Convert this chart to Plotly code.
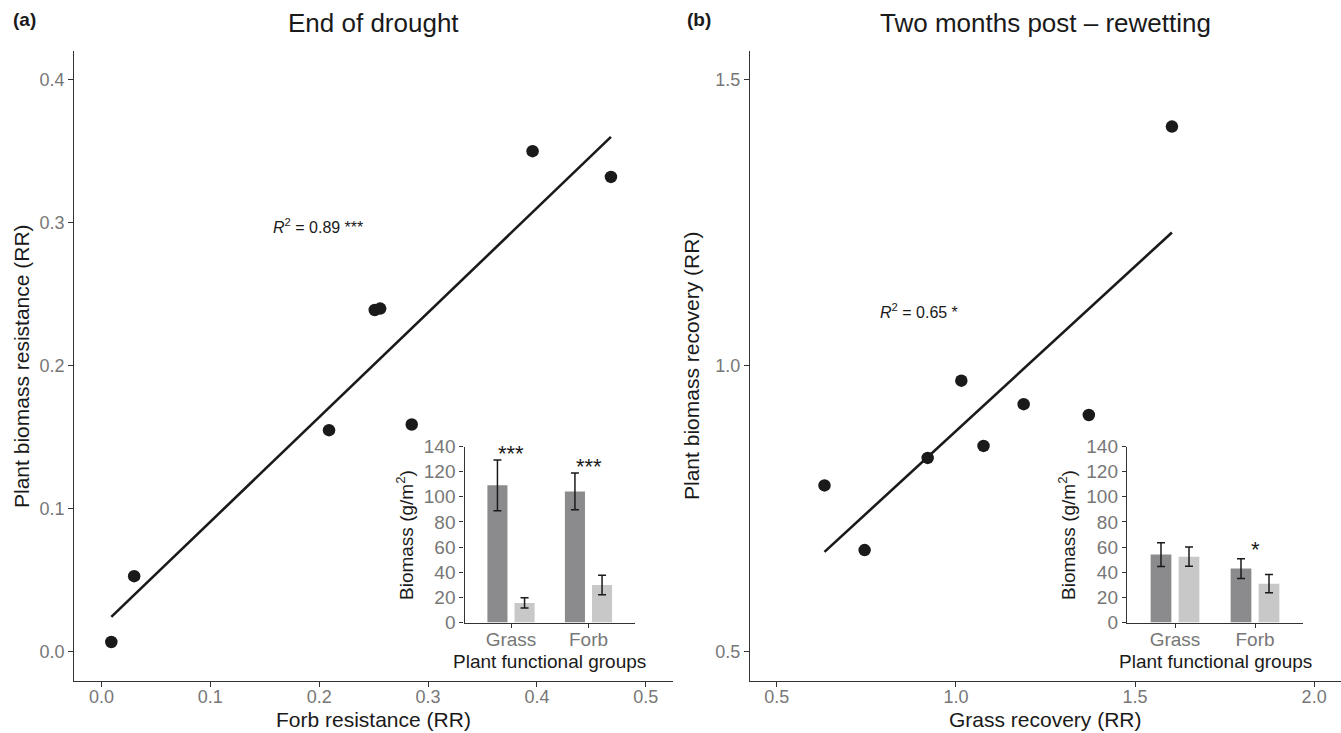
import numpy as np
import plotly.graph_objects as go

# ---------------- data ----------------
# Panel (a): End of drought
forb_resistance = [0.009, 0.030, 0.209, 0.251, 0.256, 0.285, 0.396, 0.468]
plant_resistance = [0.007, 0.053, 0.155, 0.239, 0.240, 0.159, 0.350, 0.332]
r2_a_text = "<i>R</i><sup>2</sup> = 0.89 ***"

# Panel (b): Two months post-rewetting
grass_recovery = [0.633, 0.745, 0.921, 1.015, 1.077, 1.189, 1.371, 1.603]
plant_recovery = [0.791, 0.678, 0.839, 0.974, 0.860, 0.933, 0.914, 1.418]
r2_b_text = "<i>R</i><sup>2</sup> = 0.65 *"

# Insets: biomass by plant functional group
groups = ["Grass", "Forb"]
inset_a_dark = [109.1, 104.3]
inset_a_dark_se = [20.2, 14.7]
inset_a_light = [15.6, 29.8]
inset_a_light_se = [4.0, 7.8]
inset_a_sig = ["***", "***"]

inset_b_dark = [54.0, 42.9]
inset_b_dark_se = [9.5, 7.9]
inset_b_light = [52.4, 30.9]
inset_b_light_se = [7.7, 7.2]
inset_b_sig = ["", "*"]

main_a_ticks = [0.0, 0.1, 0.2, 0.3, 0.4, 0.5]
main_a_yticks = [0.0, 0.1, 0.2, 0.3, 0.4]
main_b_ticks = [0.5, 1.0, 1.5, 2.0]
main_b_yticks = [0.5, 1.0, 1.5]
inset_yticks = [0, 20, 40, 60, 80, 100, 120, 140]

# ---------------- styling ----------------
W, H = 1341, 733
FONT = "Liberation Sans, Arial, Helvetica, sans-serif"
INK = "#1a1a1a"
AXC = "#333333"
TICKC = "#777777"
DARK = "#8b8b8d"
LIGHT = "#c8c8c8"

def px_x(p):
    return p / W

def px_y(p):
    return (H - p) / H

fig = go.Figure()

def add_scatter(x, y, xa, ya):
    fig.add_trace(go.Scatter(x=x, y=y, mode="markers", xaxis=xa, yaxis=ya,
                             marker=dict(size=12.5, color=INK), showlegend=False,
                             cliponaxis=False))
    xs = np.array(x)
    ys = np.array(y)
    k, b = np.polyfit(xs, ys, 1)
    xl = np.array([xs.min(), xs.max()])
    fig.add_trace(go.Scatter(x=xl, y=k * xl + b, mode="lines", xaxis=xa, yaxis=ya,
                             line=dict(color=INK, width=2.6), showlegend=False))

add_scatter(forb_resistance, plant_resistance, "x", "y")
add_scatter(grass_recovery, plant_recovery, "x2", "y2")

def add_inset(dark, dark_se, light, light_se, xa, ya):
    err = dict(type="data", color=INK, thickness=1.5, width=4)
    fig.add_trace(go.Bar(x=groups, y=dark, xaxis=xa, yaxis=ya, marker=dict(color=DARK, line=dict(width=0)),
                         error_y=dict(array=dark_se, **err), showlegend=False))
    fig.add_trace(go.Bar(x=groups, y=light, xaxis=xa, yaxis=ya, marker=dict(color=LIGHT, line=dict(width=0)),
                         error_y=dict(array=light_se, **err), showlegend=False))

add_inset(inset_a_dark, inset_a_dark_se, inset_a_light, inset_a_light_se, "x3", "y3")
add_inset(inset_b_dark, inset_b_dark_se, inset_b_light, inset_b_light_se, "x4", "y4")

axis_common = dict(showline=True, linecolor=AXC, linewidth=1.4, ticks="outside", ticklen=5,
                   tickcolor=AXC, tickwidth=1.2, showgrid=False, zeroline=False, automargin=False,
                   tickfont=dict(family=FONT, size=18, color=TICKC))
inset_common = dict(axis_common)
inset_common["tickfont"] = dict(family=FONT, size=19, color=TICKC)
inset_common["ticklen"] = 4
inset_x = dict(inset_common)
inset_x["ticklabelstandoff"] = -5

xaxis_main = dict(axis_common)
xaxis_main["ticklabelstandoff"] = -5

ydom_main = [px_y(680.6), px_y(51)]
ydom_inset = [px_y(622.5), px_y(446.5)]

fig.update_layout(
    width=W, height=H, margin=dict(l=0, r=0, t=0, b=0, autoexpand=False),
    paper_bgcolor="white", plot_bgcolor="rgba(0,0,0,0)",
    barmode="group", bargap=0.30, bargroupgap=0.26,
    font=dict(family=FONT, color=INK),
    xaxis=dict(domain=[px_x(74.3), px_x(673)], range=[-0.025, 0.525], tickvals=main_a_ticks,
               ticktext=[f"{v:.1f}" for v in main_a_ticks], anchor="y", **xaxis_main),
    yaxis=dict(domain=ydom_main, range=[-0.02, 0.42], tickvals=main_a_yticks,
               ticktext=[f"{v:.1f}" for v in main_a_yticks], anchor="x", **axis_common),
    xaxis2=dict(domain=[px_x(750), 1.0], range=[0.425, 2.075], tickvals=main_b_ticks,
                ticktext=[f"{v:.1f}" for v in main_b_ticks], anchor="y2", **xaxis_main),
    yaxis2=dict(domain=ydom_main, range=[0.45, 1.55], tickvals=main_b_yticks,
                ticktext=[f"{v:.1f}" for v in main_b_yticks], anchor="x2", **axis_common),
    xaxis3=dict(domain=[px_x(464.5), px_x(635)], range=[-0.6, 1.6], type="category",
                anchor="y3", **inset_x),
    yaxis3=dict(domain=ydom_inset, range=[0, 140], tickvals=inset_yticks, anchor="x3", **inset_common),
    xaxis4=dict(domain=[px_x(1127), px_x(1303)], range=[-0.6, 1.6], type="category",
                anchor="y4", **inset_x),
    yaxis4=dict(domain=ydom_inset, range=[0, 140], tickvals=inset_yticks, anchor="x4", **inset_common),
)

ann = []
def paper_text(text, x, y, size, angle=0, xanchor="center", bold=False, color=INK):
    ann.append(dict(text=f"<b>{text}</b>" if bold else text, x=x, y=y, xref="paper", yref="paper",
                    xanchor=xanchor, yanchor="middle", showarrow=False, textangle=angle,
                    font=dict(family=FONT, size=size, color=color)))

# titles and panel letters
paper_text("End of drought", px_x(373.6), px_y(23), 26)
paper_text("Two months post \u2013 rewetting", px_x(1045), px_y(23), 26)
paper_text("(a)", px_x(11), px_y(20), 19, xanchor="left", bold=True)
paper_text("(b)", px_x(685), px_y(20), 19, xanchor="left", bold=True)

# main axis titles
paper_text("Forb resistance (RR)", px_x(373.6), px_y(719), 21)
paper_text("Grass recovery (RR)", px_x(1045), px_y(719), 21)
paper_text("Plant biomass resistance (RR)", px_x(21), px_y(366), 21, angle=-90)
paper_text("Plant biomass recovery (RR)", px_x(691), px_y(366), 21, angle=-90)

# inset axis titles
paper_text("Biomass (g/m<sup>2</sup>)", px_x(405), px_y(535), 19, angle=-90)
paper_text("Plant functional groups", px_x(549.7), px_y(661), 19)
paper_text("Biomass (g/m<sup>2</sup>)", px_x(1067), px_y(535), 19, angle=-90)
paper_text("Plant functional groups", px_x(1215), px_y(661), 19)

# R2 labels
ann.append(dict(text=r2_a_text, x=0.199, y=0.298, xref="x", yref="y", showarrow=False,
                xanchor="center", yanchor="middle", font=dict(family=FONT, size=16, color=INK)))
ann.append(dict(text=r2_b_text, x=0.898, y=1.096, xref="x2", yref="y2", showarrow=False,
                xanchor="center", yanchor="middle", font=dict(family=FONT, size=16, color=INK)))

# significance stars
sig_a_y = [134.6, 123.7]
sig_b_y = [0, 58.3]
for g, s, yy in zip(groups, inset_a_sig, sig_a_y):
    if s:
        ann.append(dict(text=s, x=g, y=yy, xref="x3", yref="y3", showarrow=False,
                        yanchor="middle", font=dict(family=FONT, size=22, color=INK)))
for g, s, yy in zip(groups, inset_b_sig, sig_b_y):
    if s:
        ann.append(dict(text=s, x=g, y=yy, xref="x4", yref="y4", showarrow=False,
                        yanchor="middle", font=dict(family=FONT, size=22, color=INK)))

fig.update_layout(annotations=ann)
fig.write_html("out.html")
